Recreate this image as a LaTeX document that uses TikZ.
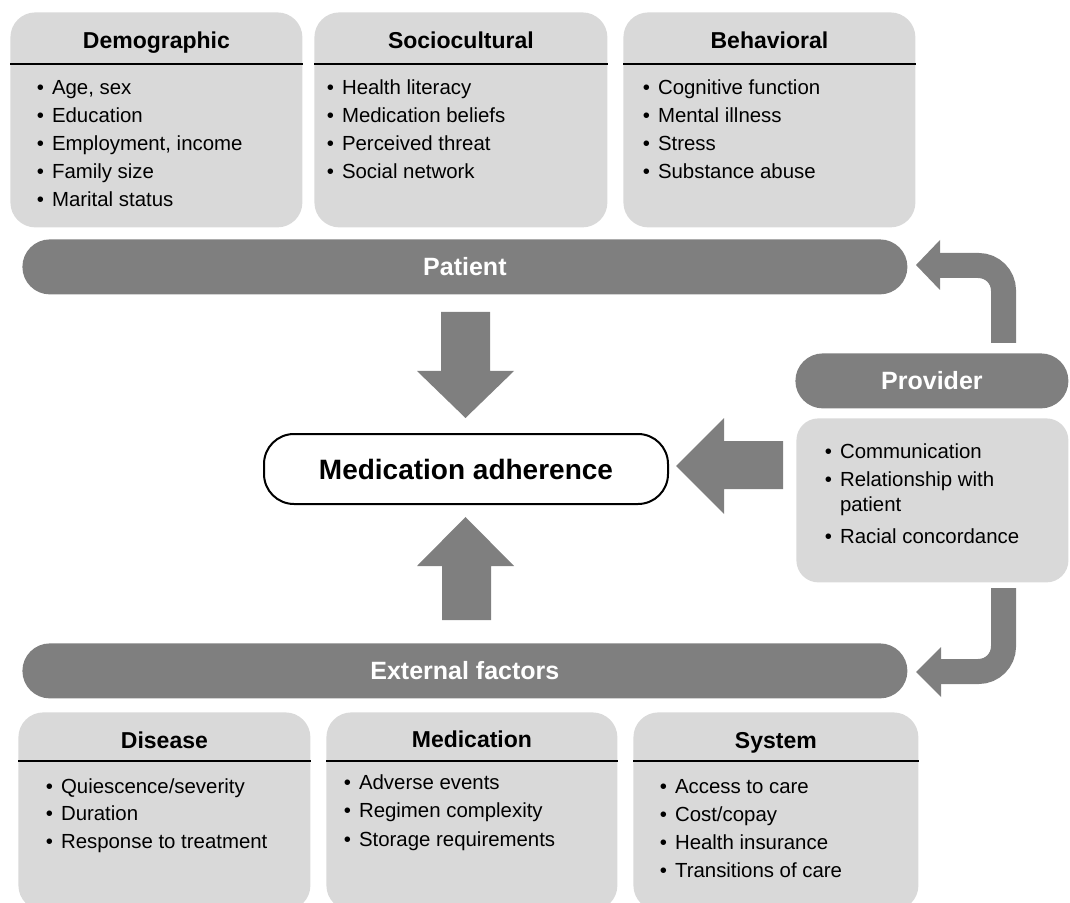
\documentclass[tikz,border=0pt]{standalone}
\usepackage{fontspec}
\setmainfont{Liberation Sans}
\definecolor{boxgray}{HTML}{D9D9D9}
\definecolor{bargray}{HTML}{7F7F7F}
\begin{document}
\begin{tikzpicture}[x=0.5pt,y=-0.5pt,
  catbox/.style={fill=boxgray, rounded corners=12.5pt, inner sep=0pt, anchor=north west},
  provbox/.style={fill=boxgray, rounded corners=11pt, inner sep=0pt, anchor=north west},
  barbox/.style={fill=bargray, rounded corners=13.75pt, inner sep=0pt, anchor=north west, minimum height=27.5pt},
  adhbox/.style={draw=black, line width=1pt, fill=white, rounded corners=15pt, inner sep=0pt, anchor=north west, minimum width=202pt, minimum height=35pt},
  titleline/.style={draw=black, line width=1.1pt},
  cattitle/.style={font=\fontsize{11.5}{13}\selectfont\bfseries, inner sep=0pt, anchor=base},
  bartext/.style={font=\fontsize{12.5}{14}\selectfont\bfseries, text=white, inner sep=0pt},
  item/.style={font=\fontsize{10.2}{12}\selectfont, inner sep=0pt, anchor=base west},
  blockarrow/.style={fill=bargray},
  bentarrow/.style={draw=bargray, line width=12.5pt, rounded corners=12.5pt}
]
\clip (0,0) rectangle (1070,903);
\newcommand{\bul}{\textbullet\hspace{4pt}}

% ---------- top category boxes ----------
\node[catbox, minimum width=146pt, minimum height=107.5pt] (demo) at (10,12) {};
\node[catbox, minimum width=146.5pt, minimum height=107.5pt] (socio) at (314,12) {};
\node[catbox, minimum width=146pt, minimum height=107.5pt] (behav) at (623,12) {};
\foreach \b in {demo,socio,behav}
  \draw[titleline] (\b.west |- 0,64) -- (\b.east |- 0,64);
\node[cattitle] (demo-t) at (demo.north |- 0,49) {Demographic};
\node[cattitle] (socio-t) at (socio.north |- 0,49) {Sociocultural};
\node[cattitle] (behav-t) at (behav.north |- 0,49) {Behavioral};
\foreach \t [count=\i] in {{Age, sex},{Education},{Employment, income},{Family size},{Marital status}}
  \node[item] (demo-\i) at ({36.5},{95+28*(\i-1)}) {\bul\t};
\foreach \t [count=\i] in {{Health literacy},{Medication beliefs},{Perceived threat},{Social network}}
  \node[item] (socio-\i) at ({326.5},{95+28*(\i-1)}) {\bul\t};
\foreach \t [count=\i] in {{Cognitive function},{Mental illness},{Stress},{Substance abuse}}
  \node[item] (behav-\i) at ({642.5},{95+28*(\i-1)}) {\bul\t};

% ---------- bars ----------
\node[barbox, minimum width=442.5pt] (patient) at (22,239) {};
\node[bartext] (patient-t) at (patient.center) {Patient};
\node[barbox, minimum width=442.5pt] (external) at (22,643) {};
\node[bartext] (external-t) at (external.center) {External factors};
\node[barbox, minimum width=136.5pt] (provider) at (795,353) {};
\node[bartext] (provider-t) at (provider.center) {Provider};

% ---------- provider box ----------
\node[provbox, minimum width=136pt, minimum height=82pt] (provbox) at (796,418) {};
\node[item] (prov-1) at (824.5,458) {\bul Communication};
\node[item] (prov-2) at (824.5,486) {\bul Relationship with};
\node[item] (prov-2b) at (824.5,511) {\phantom{\textbullet}\hspace{4pt}patient};
\node[item] (prov-3) at (824.5,543) {\bul Racial concordance};

% ---------- central box ----------
\node[adhbox] (adh) at (263,433) {};
\node[font=\fontsize{14}{16}\selectfont\bfseries, inner sep=0pt] (adh-t) at (adh.center) {Medication adherence};

% ---------- block arrows ----------
\fill[blockarrow] (441,312) -- (490,312) -- (490,371) -- (514,371) -- (465.5,418) -- (417,371) -- (441,371) -- cycle;
\fill[blockarrow] (442,620) -- (491,620) -- (491,566) -- (514,566) -- (465.5,517) -- (417,566) -- (442,566) -- cycle;
\fill[blockarrow] (783,441) -- (783,489) -- (724,489) -- (724,514) -- (676,466) -- (724,418) -- (724,441) -- cycle;

% ---------- bent arrows ----------
\coordinate (up-start) at (1003.5,343);
\coordinate (up-corner) at (1003.5,265.5);
\coordinate (up-end) at (939,265.5);
\draw[bentarrow] (up-start) -- (up-corner) -- (up-end);
\fill[blockarrow] (940,240) -- (940,290) -- (916,265) -- cycle;
\coordinate (dn-start) at (1003.5,588);
\coordinate (dn-corner) at (1003.5,671.5);
\coordinate (dn-end) at (940,671.5);
\draw[bentarrow] (dn-start) -- (dn-corner) -- (dn-end);
\fill[blockarrow] (941,647) -- (941,697) -- (916,672) -- cycle;

% ---------- bottom category boxes ----------
\node[catbox, minimum width=146pt, minimum height=99pt] (dis) at (18,712) {};
\node[catbox, minimum width=145.5pt, minimum height=99pt] (med) at (326,712) {};
\node[catbox, minimum width=142.5pt, minimum height=99pt] (sys) at (633,712) {};
\foreach \b in {dis,med,sys}
  \draw[titleline] (\b.west |- 0,761) -- (\b.east |- 0,761);
\node[cattitle] (dis-t) at (dis.north |- 0,748) {Disease};
\node[cattitle] (med-t) at (med.north |- 0,747) {Medication};
\node[cattitle] (sys-t) at (sys.north |- 0,748) {System};
\foreach \t [count=\i] in {{Quiescence/severity},{Duration},{Response to treatment}}
  \node[item] (dis-\i) at ({45.5},{793+27.5*(\i-1)}) {\bul\t};
\foreach \t [count=\i] in {{Adverse events},{Regimen complexity},{Storage requirements}}
  \node[item] (med-\i) at ({343.5},{789+28.5*(\i-1)}) {\bul\t};
\foreach \t [count=\i] in {{Access to care},{Cost/copay},{Health insurance},{Transitions of care}}
  \node[item] (sys-\i) at ({659.5},{793+28*(\i-1)}) {\bul\t};
\end{tikzpicture}
\end{document}
